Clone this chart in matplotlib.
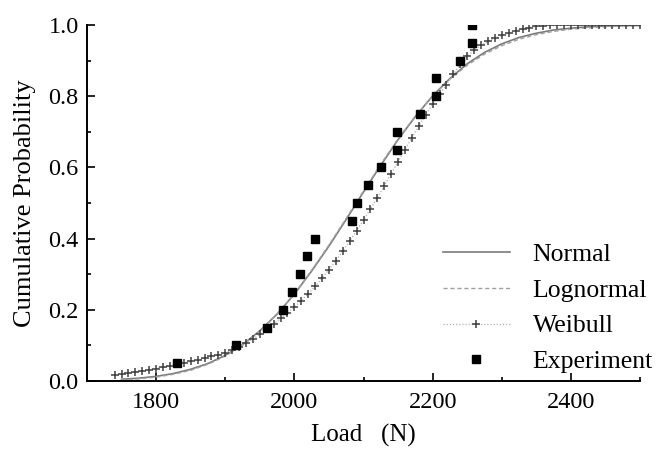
"""Cumulative probability of failure load: fitted distributions vs experiment."""
import matplotlib
matplotlib.use("Agg")
import matplotlib.pyplot as plt
from matplotlib.ticker import MultipleLocator

# Experiment points (load N, cumulative probability)
exp_load = [1830, 1915, 1960, 1983, 1996, 2008, 2018, 2030, 2083, 2091,
            2106, 2126, 2149, 2149, 2182, 2205, 2205, 2239, 2257, 2257]
exp_prob = [0.05, 0.10, 0.15, 0.20, 0.25, 0.30, 0.35, 0.40, 0.45, 0.50,
            0.55, 0.60, 0.65, 0.70, 0.75, 0.80, 0.85, 0.90, 0.95, 1.00]

# Normal / lognormal curves read every 25 N
fit_load = [1750, 1775, 1800, 1825, 1850, 1875, 1900, 1925, 1950, 1975,
            2000, 2025, 2050, 2075, 2100, 2125, 2150, 2175, 2200, 2225,
            2250, 2275, 2300, 2325, 2350, 2375, 2400, 2425, 2450, 2475, 2500]
normal_prob = [0.005, 0.008, 0.013, 0.021, 0.033, 0.049, 0.072, 0.102, 0.141, 0.188,
               0.244, 0.309, 0.379, 0.454, 0.531, 0.606, 0.678, 0.743, 0.801, 0.850,
               0.891, 0.923, 0.947, 0.965, 0.977, 0.986, 0.991, 0.995, 0.997, 0.998, 0.999]
lognormal_prob = [0.003, 0.006, 0.011, 0.019, 0.030, 0.047, 0.070, 0.100, 0.140, 0.188,
                  0.245, 0.311, 0.382, 0.457, 0.534, 0.609, 0.680, 0.744, 0.800, 0.848,
                  0.887, 0.918, 0.942, 0.960, 0.973, 0.982, 0.988, 0.992, 0.995, 0.997, 0.998]

# Weibull curve, one marker every 10 N from 1740 to 2500
weib_load = list(range(1740, 2501, 10))
weib_prob = [0.016, 0.019, 0.022, 0.025, 0.028, 0.032, 0.035, 0.039, 0.043, 0.047,
             0.051, 0.055, 0.059, 0.064, 0.069, 0.074, 0.080, 0.087, 0.096, 0.106,
             0.118, 0.131, 0.145, 0.160, 0.176, 0.192, 0.208, 0.226, 0.245, 0.266,
             0.289, 0.313, 0.338, 0.365, 0.393, 0.422, 0.452, 0.483, 0.515, 0.548,
             0.582, 0.616, 0.650, 0.683, 0.716, 0.748, 0.778, 0.806, 0.832, 0.862,
             0.890, 0.912, 0.929, 0.943, 0.954, 0.963, 0.971, 0.978, 0.984, 0.989,
             0.993, 0.996, 0.998, 0.999, 1.000, 1.000, 1.000, 1.000, 1.000, 1.000,
             1.000, 1.000, 1.000, 1.000, 1.000, 1.000, 1.000]

plt.rcParams["font.family"] = ["Liberation Serif", "DejaVu Serif"]

fig = plt.figure(figsize=(6.66, 4.5), dpi=100)
ax = fig.add_axes([0.1306, 0.1533, 0.8304, 0.7911])

ax.plot(fit_load, normal_prob, color="#7a7a7a", lw=1.2, label="Normal")
ax.plot(fit_load, lognormal_prob, color="#a0a0a0", lw=1.0, ls=(0, (3, 2)), label="Lognormal")
ax.plot(weib_load, weib_prob, color="#b0b0b0", lw=0.9, ls=(0, (1, 1.5)),
        marker="+", ms=6, mew=1.1, mec="#404040", label="Weibull")
ax.plot(exp_load, exp_prob, ls="none", marker="s", ms=6, color="black", label="Experiment")

ax.set_xlim(1700, 2500)
ax.set_ylim(0, 1.0)
ax.xaxis.set_major_locator(MultipleLocator(200))
ax.xaxis.set_minor_locator(MultipleLocator(100))
ax.yaxis.set_major_locator(MultipleLocator(0.2))
ax.yaxis.set_minor_locator(MultipleLocator(0.1))
ax.yaxis.set_major_formatter(matplotlib.ticker.FormatStrFormatter("%.1f"))
ax.tick_params(which="both", direction="in", labelsize=17.5, width=1.2)
ax.tick_params(which="major", length=6)
ax.tick_params(which="minor", length=3)
ax.tick_params(axis="x", pad=8)
ax.tick_params(axis="y", pad=6)
ax.spines[["top", "right"]].set_visible(False)
ax.spines[["left", "bottom"]].set_linewidth(1.4)

ax.set_xlabel("Load   (N)", fontsize=18, labelpad=8)
ax.set_ylabel("Cumulative Probability", fontsize=19, labelpad=9)

ax.legend(loc="upper left", bbox_to_anchor=(430 / 666, 1 - 230 / 450),
          bbox_transform=fig.transFigure, frameon=False, fontsize=18.5,
          handlelength=2.6, handletextpad=0.9, labelspacing=0.5, borderpad=0)

fig.savefig("out.png", dpi=100)
